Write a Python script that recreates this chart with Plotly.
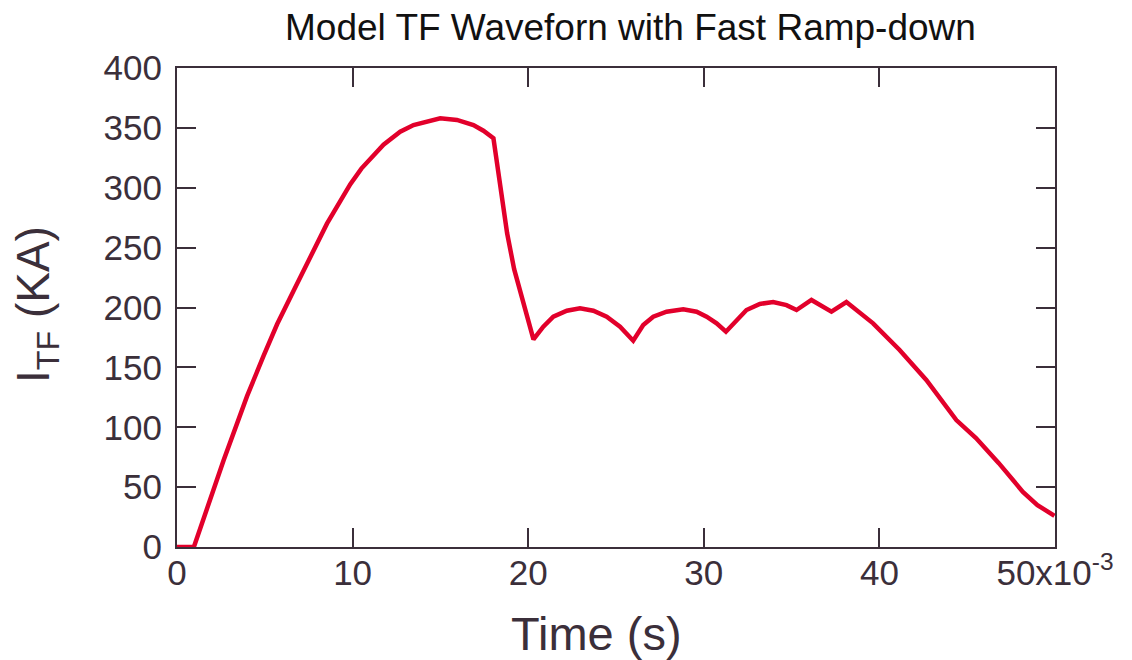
import plotly.graph_objects as go

# time in ms (axis in seconds x10^-3), current in kA
time_ms = [0.0, 0.96, 2.66, 3.99, 4.94, 5.70, 6.64, 7.21, 7.78, 8.54, 9.87, 10.5, 11.19, 11.76, 12.71,
           13.47, 14.99, 15.94, 16.88, 17.45, 18.02,
           18.4, 18.8, 19.2, 19.6, 20.3,
           20.86, 21.43, 22.2, 22.95, 23.71, 24.47, 25.23, 25.98,
           26.55, 27.12, 27.88, 28.83, 29.59, 30.16, 30.73, 31.26,
           32.43, 33.19, 33.95, 34.71, 35.28, 36.13, 37.27, 38.12,
           39.64, 41.15, 42.67, 44.38, 45.5, 46.8, 48.17, 49.0, 49.97]
current_ka = [0.0, 0.0, 72.6, 126, 160, 186, 214, 231, 248, 270, 303, 316, 327, 336, 346.8,
              352.4, 358, 356.6, 352.4, 347.6, 341.3,
              300, 262, 232, 210, 173.4,
              184, 192.3, 197.3, 199.3, 197.3, 192.3, 184, 172.3,
              185.4, 192.3, 196.5, 198.5, 196.5, 192.3, 186.8, 179.8,
              197.9, 203, 204.5, 202, 197.9, 206.3, 196.5, 204.5,
              186.8, 164.5, 139.5, 106, 91, 70, 46, 35, 26]

x_ticks = [0, 0.01, 0.02, 0.03, 0.04, 0.05]
x_tick_labels = ["0", "10", "20", "30", "40", "50x10<sup>-3</sup>"]
y_ticks = [0, 50, 100, 150, 200, 250, 300, 350, 400]

time_s = [t * 1e-3 for t in time_ms]

axis_col = "#3b2f3a"
font_family = "Liberation Sans, Arial, sans-serif"

fig = go.Figure()
fig.add_trace(go.Scatter(x=time_s, y=current_ka, mode="lines",
                         line=dict(color="#E2002B", width=4.5), showlegend=False))

common = dict(showline=True, linecolor=axis_col, linewidth=2, mirror="ticks",
              ticks="inside", ticklen=19, tickwidth=2, tickcolor=axis_col,
              showgrid=False, zeroline=False,
              tickfont=dict(family=font_family, size=35, color=axis_col))

fig.update_xaxes(range=[0, 0.05], tickvals=x_ticks, ticktext=x_tick_labels,
                 ticklabelstandoff=-6, **common)
fig.update_yaxes(range=[0, 400], tickvals=y_ticks, ticklabelstandoff=6, **common)

# page body has an 8px margin: plot area ends up at x 177..1055, y 68..547
fig.update_layout(
    width=1132, height=660,
    margin=dict(l=169, r=85, t=60, b=121),
    paper_bgcolor="white", plot_bgcolor="white",
    font=dict(family=font_family),
    annotations=[
        dict(text="Model TF Waveforn with Fast Ramp-down", xref="paper", yref="paper",
             x=(630 - 177) / 878, y=1 + (68 - 27) / 479, xanchor="center", yanchor="middle",
             showarrow=False, font=dict(family=font_family, size=37, color="#111111")),
        dict(text="Time (s)", xref="paper", yref="paper",
             x=(596 - 177) / 878, y=-(634 - 547) / 479, xanchor="center", yanchor="middle",
             showarrow=False, font=dict(family=font_family, size=47, color=axis_col)),
        dict(text="I<sub>TF</sub> (KA)", xref="paper", yref="paper",
             x=-(177 - 36) / 878, y=(547 - 305) / 479, xanchor="center", yanchor="middle",
             textangle=-90, showarrow=False,
             font=dict(family=font_family, size=46, color=axis_col)),
    ],
)

fig.write_html("out.html")
